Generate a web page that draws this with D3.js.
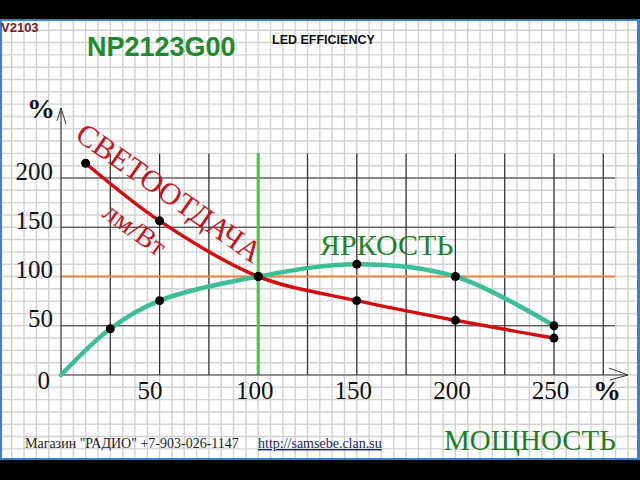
<!DOCTYPE html>
<html><head><meta charset="utf-8">
<script src="https://cdn.jsdelivr.net/npm/d3@7"></script>
<style>html,body{margin:0;padding:0;background:#000;}svg{display:block;}</style>
</head><body>
<script>
// ---- data ----
const xTicks = [50, 100, 150, 200, 250];
const yTicks = [0, 50, 100, 150, 200];
const powerRed = [12.5, 50, 100, 150, 200, 250];
const efficacy = [215, 156.5, 100, 75.5, 55.5, 37.5];
const powerGreen = [0, 25, 50, 100, 150, 200, 250];
const brightness = [0, 47, 75.5, 100, 112.5, 100, 50];
const majorX = [25, 50, 75, 100, 125, 150, 175, 200, 225, 250, 275];
const majorY = [50, 150, 200];

const W = 640, H = 480;
const svg = d3.select("body").append("svg").attr("width", W).attr("height", H);
const x = d3.scaleLinear().domain([0, 250]).range([61, 554]);
const y = d3.scaleLinear().domain([0, 200]).range([375, 178]);

// frame
svg.append("rect").attr("width", W).attr("height", H).attr("fill", "#000");
svg.append("rect").attr("x", 0).attr("y", 19).attr("width", 640).attr("height", 441).attr("fill", "#3a7fd5");
svg.append("rect").attr("x", 2).attr("y", 21).attr("width", 635).attr("height", 437).attr("fill", "#fff");

svg.append("clipPath").attr("id", "paper").append("rect")
  .attr("x", 2).attr("y", 21).attr("width", 635).attr("height", 437);
const paper = svg.append("g").attr("clip-path", "url(#paper)");

// minor graph-paper grid
const minorX = d3.range(-10, 48).map(k => k * 6.25);
const minorY = d3.range(-8, 30).map(k => k * 12.5);
paper.selectAll("line.mx").data(minorX).join("line")
  .attr("x1", d => x(d)).attr("x2", d => x(d)).attr("y1", 0).attr("y2", H)
  .attr("stroke", "#d2d2d2").attr("stroke-width", 1.4);
paper.selectAll("line.my").data(minorY).join("line")
  .attr("y1", d => y(d)).attr("y2", d => y(d)).attr("x1", 0).attr("x2", W)
  .attr("stroke", "#d2d2d2").attr("stroke-width", 1.4);

// major grid
svg.selectAll("line.gx").data(majorX).join("line")
  .attr("x1", d => x(d)).attr("x2", d => x(d)).attr("y1", y(0)).attr("y2", y(225))
  .attr("stroke", "#333").attr("stroke-width", 1.2);
svg.selectAll("line.gy").data(majorY).join("line")
  .attr("y1", d => y(d)).attr("y2", d => y(d)).attr("x1", x(0)).attr("x2", x(281))
  .attr("stroke", "#333").attr("stroke-width", 1.2);

// reference lines
svg.append("line").attr("x1", x(0)).attr("x2", x(281)).attr("y1", y(100)).attr("y2", y(100))
  .attr("stroke", "#f0803c").attr("stroke-width", 2);
svg.append("line").attr("x1", x(100)).attr("x2", x(100)).attr("y1", y(0)).attr("y2", y(225))
  .attr("stroke", "#3acc3a").attr("stroke-width", 3);

// axes lines with arrows
svg.append("line").attr("x1", x(0)).attr("x2", x(0)).attr("y1", y(0)).attr("y2", 108)
  .attr("stroke", "#444").attr("stroke-width", 1.2);
svg.append("path").attr("d", `M${x(0)-4},121 L${x(0)},108 L${x(0)+5},124`)
  .attr("fill", "none").attr("stroke", "#333").attr("stroke-width", 1);
svg.append("line").attr("x1", x(0)).attr("x2", 628).attr("y1", y(0)).attr("y2", y(0))
  .attr("stroke", "#444").attr("stroke-width", 1.2);
svg.append("path").attr("d", `M609,368 L628,${y(0)} L610,380`)
  .attr("fill", "none").attr("stroke", "#333").attr("stroke-width", 1);

// tick labels via axes
const axB = svg.append("g").attr("transform", `translate(0,${y(0)})`)
  .call(d3.axisBottom(x).tickValues(xTicks).tickSize(0).tickPadding(6).tickFormat(d3.format("d")));
axB.select(".domain").remove();
axB.selectAll("text").attr("font-family", "Liberation Serif, Times New Roman, serif")
  .attr("font-size", 25).attr("fill", "#111").attr("dx", d => d === 50 ? -10 : -4);

const axL = svg.append("g").attr("transform", "translate(53,0)")
  .call(d3.axisLeft(y).tickValues(yTicks).tickSize(0).tickPadding(0).tickFormat(d3.format("d")));
axL.select(".domain").remove();
axL.selectAll("text").attr("font-family", "Liberation Serif, Times New Roman, serif")
  .attr("font-size", 25).attr("fill", "#111")
  .attr("dy", d => d === 0 ? 13 : 1).attr("dx", d => d === 0 ? -3 : 0);

// curves
const line = d3.line().curve(d3.curveCatmullRom.alpha(0.5));
const redPts = powerRed.map((p, i) => [x(p), y(efficacy[i])]);
const greenPts = powerGreen.map((p, i) => [x(p), y(brightness[i])]);
svg.append("path").attr("d", line(greenPts)).attr("fill", "none")
  .attr("stroke", "#3cbf96").attr("stroke-width", 4.5).attr("stroke-linecap", "round");
svg.append("path").attr("d", line(redPts)).attr("fill", "none")
  .attr("stroke", "#d40c0c").attr("stroke-width", 3.5).attr("stroke-linecap", "round");

// dots
svg.selectAll("circle.g").data(greenPts.slice(1)).join("circle")
  .attr("cx", d => d[0]).attr("cy", d => d[1]).attr("r", 4.5).attr("fill", "#000");
svg.selectAll("circle.r").data(redPts).join("circle")
  .attr("cx", d => d[0]).attr("cy", d => d[1]).attr("r", 4.5).attr("fill", "#000");

// texts
const serif = "Liberation Serif, Times New Roman, serif";
const sans = "Liberation Sans, Arial, sans-serif";
svg.append("text").attr("x", 1).attr("y", 32).text("V2103")
  .attr("font-family", sans).attr("font-weight", "bold").attr("font-size", 13).attr("fill", "#7a1c1c");
svg.append("text").attr("x", 87).attr("y", 56).text("NP2123G00")
  .attr("font-family", sans).attr("font-weight", "bold").attr("font-size", 27).attr("fill", "#1e8a2c");
svg.append("text").attr("x", 272).attr("y", 44).text("LED EFFICIENCY")
  .attr("font-family", sans).attr("font-weight", "bold").attr("font-size", 12.5).attr("fill", "#111");
svg.append("text").attr("x", 27).attr("y", 118).text("%")
  .attr("font-family", serif).attr("font-weight", "bold").attr("font-size", 28).attr("fill", "#111");
svg.append("text").attr("x", 593).attr("y", 400).text("%")
  .attr("font-family", serif).attr("font-weight", "bold").attr("font-size", 28).attr("fill", "#111");

svg.append("text").attr("transform", "translate(169,193) rotate(35)")
  .attr("text-anchor", "middle").attr("dominant-baseline", "central").text("СВЕТООТДАЧА")
  .attr("font-family", serif).attr("font-size", 30.5).attr("fill", "#c8141c");
svg.append("text").attr("transform", "translate(135,229) rotate(36)")
  .attr("text-anchor", "middle").attr("dominant-baseline", "central").text("лм/Вт")
  .attr("font-family", serif).attr("font-size", 28).attr("fill", "#c8141c");
svg.append("text").attr("x", 320).attr("y", 255).text("ЯРКОСТЬ")
  .attr("font-family", serif).attr("font-size", 30).attr("fill", "#1f8426");
svg.append("text").attr("x", 444).attr("y", 450).text("МОЩНОСТЬ")
  .attr("font-family", serif).attr("font-size", 29).attr("fill", "#1e7e22");
svg.append("text").attr("x", 25).attr("y", 448).text("Магазин \"РАДИО\" +7-903-026-1147")
  .attr("font-family", serif).attr("font-size", 14).attr("fill", "#222");
svg.append("text").attr("x", 258).attr("y", 448).text("http://samsebe.clan.su")
  .attr("font-family", serif).attr("font-size", 14).attr("fill", "#1c1c70")
  .attr("text-decoration", "underline");
</script>
</body></html>
